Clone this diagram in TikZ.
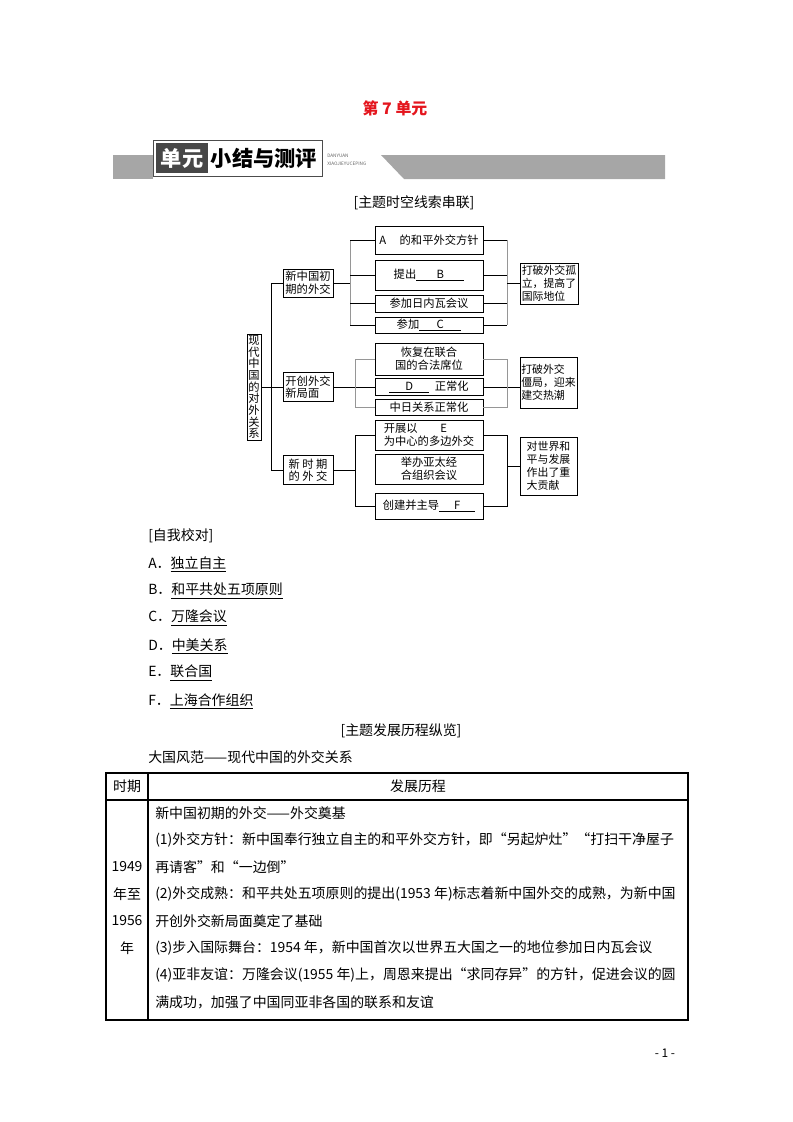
\documentclass[tikz,border=0pt]{standalone}
\usepackage{fontspec}
\setmainfont{Noto Sans CJK SC}
\usepackage{tikz}

\definecolor{titlered}{RGB}{228,22,30}
\definecolor{bargray}{RGB}{166,166,166}
\definecolor{railgray}{RGB}{150,150,150}
\newlength{\pxl}
\setlength{\pxl}{0.026482cm}

\tikzset{
  wh/.style 2 args={minimum width=#1*\pxl,minimum height=#2*\pxl},
  box/.style={draw,line width=0.6pt,inner sep=0pt,align=center,
    font=\fontsize{8.5}{9.5}\selectfont},
  resbox/.style={box,align=left,font=\fontsize{8.2}{9.8}\selectfont},
  body/.style={anchor=west,inner sep=0pt,font=\fontsize{10.5}{12}\selectfont},
  mid/.style={inner sep=0pt,font=\fontsize{10.5}{12}\selectfont}
}

\begin{document}
\begin{tikzpicture}[x=\pxl,y=-\pxl]
\useasboundingbox (0,0) rectangle (793,1122);

% title and banner
\node[inner sep=0pt,text=titlered,font=\fontsize{12}{14}\selectfont\bfseries] (title) at (395,108) {第 7 单元};
\fill[bargray] (113,155) rectangle (153,179);
\fill[bargray] (381,155) -- (665,155) -- (665,179) -- (404,179) -- cycle;
\draw[fill=white,draw=black!70] (153,140) rectangle (322,176);
\fill[black!72] (156,143) rectangle (208,173);
\node[inner sep=0pt,text=white,font=\fontsize{16}{18}\selectfont\bfseries] (bnunit) at (182,158) {单元};
\node[inner sep=0pt,font=\fontsize{16}{18}\selectfont\bfseries] (bnsum) at (264,158) {小结与测评};
\node[anchor=west,inner sep=0pt,text=black!60,font=\fontsize{3.5}{4}\selectfont] (bnpy1) at (327,156) {DANYUAN};
\node[anchor=west,inner sep=0pt,text=black!60,font=\fontsize{3.5}{4}\selectfont] (bnpy2) at (327,164) {XIAOJIEYUCEPING};

\node[mid] (hd1) at (414,203) {[主题时空线索串联]};

% diagram
\node[box,wh={14}{106},font=\fontsize{8.5}{8.8}\selectfont] (root) at (254,387) {现\\代\\中\\国\\的\\对\\外\\关\\系};
\node[box,wh={50}{28}] (l1a) at (308,283) {新中国初\\期的外交};
\node[box,wh={50}{29},align=left] (l1b) at (308,387) {开创外交\\新局面};
\node[box,wh={50}{29}] (l1c) at (308,470) {新 时 期\\的 外 交};

\node[box,wh={108}{28}] (ra) at (429,240) {A\hspace{1.2em}的和平外交方针};
\node[box,wh={108}{30}] (rb) at (429,275) {提出\underline{\makebox[48\pxl]{B}}};
\node[box,wh={108}{17}] (rc) at (429,303.5) {参加日内瓦会议};
\node[box,wh={108}{16}] (rd) at (429,325) {参加\underline{\makebox[42\pxl]{C}}};

\node[box,wh={108}{32}] (r2a) at (429,359) {恢复在联合\\国的合法席位};
\node[box,wh={108}{17}] (r2b) at (429,387) {\underline{\makebox[40\pxl]{D}}\enspace 正常化};
\node[box,wh={108}{16}] (r2c) at (429,407) {中日关系正常化};

\node[box,wh={108}{30},align=left] (r3a) at (429,435) {开展以\hspace{2em}E\\为中心的多边外交};
\node[box,wh={108}{30}] (r3b) at (429,469) {举办亚太经\\合组织会议};
\node[box,wh={108}{26}] (r3c) at (429,506) {创建并主导\underline{\makebox[36\pxl]{F}}};

\node[resbox,wh={58}{41}] (res1) at (549,283.5) {打破外交孤\\立，提高了\\国际地位};
\node[resbox,wh={57}{51}] (res2) at (548.5,382.5) {打破外交\\僵局，迎来\\建交热潮};
\node[resbox,wh={57}{58}] (res3) at (548.5,466) {对世界和\\平与发展\\作出了重\\大贡献};

\coordinate (trunk) at (271,0);
\coordinate (railA) at (350,0);
\coordinate (railB) at (355,0);
\coordinate (railR) at (507,0);

\begin{scope}[line width=0.6pt]
\draw (root.east) -- (l1b.west);
\draw (trunk |- l1a.west) -- (trunk |- l1c.west);
\draw (trunk |- l1a.west) -- (l1a.west);
\draw (trunk |- l1c.west) -- (l1c.west);

% first period
\draw (l1a.east) -- (railA |- l1a.east);
\draw[railgray] (railA |- ra.west) -- (railA |- rd.west);
\draw[railgray] (railR |- ra.east) -- (railR |- rd.east);
\foreach \r in {ra,rb,rc,rd} {
  \draw (railA |- \r.west) -- (\r.west);
  \draw (\r.east) -- (railR |- \r.east);
}
\draw (railR |- res1.west) -- (res1.west);

% new situation
\draw (l1b.east) -- (r2b.west);
\draw (r2b.east) -- (r2b.east -| res2.west);
\draw[railgray] (r2a.west) -- (railB |- r2a.west) -- (railB |- r2c.west) -- (r2c.west);
\draw[railgray] (r2a.east) -- (railR |- r2a.east) -- (railR |- r2c.east) -- (r2c.east);

% new era
\draw (l1c.east) -- (railB |- l1c.east);
\draw (r3a.west) -- (railB |- r3a.west) -- (railB |- r3c.west) -- (r3c.west);
\draw (r3a.east) -- (railR |- r3a.east) -- (railR |- r3c.east) -- (r3c.east);
\draw (railR |- res3.west) -- (res3.west);
\end{scope}

% self check
\node[body] (chk) at (148,536) {[自我校对]};
\node[body] (ansA) at (148,564) {A．\underline{独立自主}};
\node[body] (ansB) at (148,591) {B．\underline{和平共处五项原则}};
\node[body] (ansC) at (148,618) {C．\underline{万隆会议}};
\node[body] (ansD) at (148,646) {D．\underline{中美关系}};
\node[body] (ansE) at (148,673) {E．\underline{联合国}};
\node[body] (ansF) at (148,701) {F．\underline{上海合作组织}};

\node[mid] (hd2) at (401,731) {[主题发展历程纵览]};
\node[body] (cap) at (148,757) {大国风范——现代中国的外交关系};

% table
\draw[line width=0.9pt] (106,773) rectangle (688,1020);
\draw[line width=0.9pt] (148,773) -- (148,1020);
\draw[line width=0.9pt] (106,800) -- (688,800);
\node[mid] (th1) at (127,786) {时期};
\node[mid] (th2) at (418,786) {发展历程};
\node[mid] (yr1) at (127,867) {1949};
\node[mid] (yr2) at (127,894) {年至};
\node[mid] (yr3) at (127,921) {1956};
\node[mid] (yr4) at (127,948) {年};
\node[body] (tx1) at (155,813) {新中国初期的外交——外交奠基};
\node[body] (tx2) at (155,840) {(1)外交方针：新中国奉行独立自主的和平外交方针，即“另起炉灶”“打扫干净屋子};
\node[body] (tx3) at (155,867) {再请客”和“一边倒”};
\node[body] (tx4) at (155,894) {(2)外交成熟：和平共处五项原则的提出(1953 年)标志着新中国外交的成熟，为新中国};
\node[body] (tx5) at (155,921) {开创外交新局面奠定了基础};
\node[body] (tx6) at (155,948) {(3)步入国际舞台：1954 年，新中国首次以世界五大国之一的地位参加日内瓦会议};
\node[body] (tx7) at (155,975) {(4)亚非友谊：万隆会议(1955 年)上，周恩来提出“求同存异”的方针，促进会议的圆};
\node[body] (tx8) at (155,1002) {满成功，加强了中国同亚非各国的联系和友谊};

\node[inner sep=0pt,font=\fontsize{9}{10}\selectfont] (pg) at (665,1053) {- 1 -};
\end{tikzpicture}
\end{document}
